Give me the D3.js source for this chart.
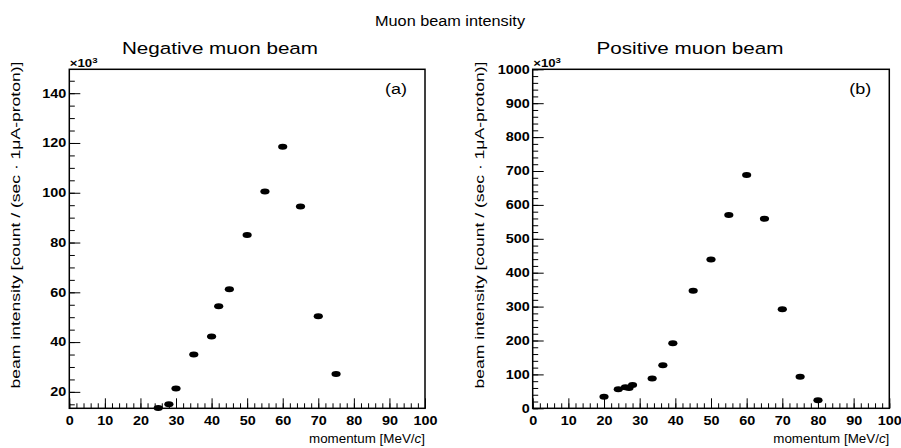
<!DOCTYPE html>
<html lang="en">
<head>
<meta charset="UTF-8">
<title>Muon beam intensity</title>
<script src="https://d3js.org/d3.v7.min.js"></script>
<style>
  body { margin: 0; background: #fff; }
  svg { font-family: "Liberation Sans", Arial, Helvetica, sans-serif; }
  .tick text { font-weight: bold; font-size: 12px; fill: #000; }
  .axis line { stroke: #000; stroke-width: 1; }
  .frame { fill: none; stroke: #000; stroke-width: 1.5; }
  .dot { fill: #000; }
</style>
</head>
<body>
<svg width="901" height="448"></svg>
<script>
// data (intensity in units of 10^3)
const negMomentum  = [25, 28, 30, 35, 40, 42, 45, 50, 55, 60, 65, 70, 75];
const negIntensity = [13.5, 15.0, 21.4, 35.0, 42.2, 54.4, 61.2, 83.0, 100.5, 118.5, 94.5, 50.4, 27.2];
const posMomentum  = [20, 24, 26, 27, 28, 33.5, 36.5, 39.3, 45, 50, 55, 60, 65, 70, 75, 80];
const posIntensity = [34, 56, 62, 60, 69, 88, 127, 192, 347, 439, 570, 688, 559, 292, 93, 24];

const xTicks = [0, 10, 20, 30, 40, 50, 60, 70, 80, 90, 100];
const negYTicks = [20, 40, 60, 80, 100, 120, 140];
const posYTicks = [0, 100, 200, 300, 400, 500, 600, 700, 800, 900, 1000];

const mainTitle = "Muon beam intensity";
const yTitle = "beam intensity [count / (sec \u00b7 1\u03bcA-proton)]";

const SX = 1.2; // text is drawn a little stretched sideways like the original

const svg = d3.select("svg");

svg.append("text")
    .attr("transform", "translate(450,26) scale(1.05,1)")
    .attr("text-anchor", "middle")
    .style("font-size", "15.5px")
    .text(mainTitle);

function drawPanel(opt) {
    const g = svg.append("g");
    const x = d3.scaleLinear().domain([0, 100]).range([opt.left, opt.right]);
    const y = d3.scaleLinear().domain(opt.yDomain).range([opt.bottom, opt.top]);

    // minor ticks
    g.append("g").attr("class", "axis")
        .attr("transform", "translate(0," + opt.bottom + ")")
        .call(d3.axisBottom(x).tickValues(d3.range(0, 100.1, 2)).tickSize(-5).tickFormat(""))
        .call(a => a.select(".domain").remove());
    g.append("g").attr("class", "axis")
        .attr("transform", "translate(" + opt.left + ",0)")
        .call(d3.axisLeft(y).tickValues(opt.yMinor).tickSize(-5.5).tickFormat(""))
        .call(a => a.select(".domain").remove());

    // major ticks with labels
    g.append("g").attr("class", "axis")
        .attr("transform", "translate(0," + opt.bottom + ")")
        .call(d3.axisBottom(x).tickValues(xTicks).tickSize(-10).tickFormat(d3.format("d")))
        .call(a => a.select(".domain").remove())
        .call(a => a.selectAll("text")
            .attr("y", 0).attr("dy", "0.71em")
            .attr("transform", "translate(0,8) scale(" + SX + ",1)"));
    g.append("g").attr("class", "axis")
        .attr("transform", "translate(" + opt.left + ",0)")
        .call(d3.axisLeft(y).tickValues(opt.yTicks).tickSize(-11).tickFormat(d3.format("d")))
        .call(a => a.select(".domain").remove())
        .call(a => a.selectAll("text")
            .attr("x", 0)
            .attr("transform", "translate(-3,0) scale(" + SX + ",1)"));

    // frame
    g.append("rect").attr("class", "frame")
        .attr("x", opt.left).attr("y", opt.top)
        .attr("width", opt.right - opt.left).attr("height", opt.bottom - opt.top);

    // points
    g.selectAll(".dot")
        .data(opt.xs.map((d, i) => [d, opt.ys[i]]))
      .join("ellipse")
        .attr("class", "dot")
        .attr("cx", d => x(d[0]))
        .attr("cy", d => y(d[1]))
        .attr("rx", 4.6)
        .attr("ry", 3);

    // panel title
    g.append("text")
        .attr("transform", "translate(" + opt.titleX + ",54) scale(" + SX + ",1)")
        .attr("text-anchor", "middle")
        .style("font-size", "17.2px")
        .text(opt.title);

    // (a)/(b)
    g.append("text")
        .attr("transform", "translate(" + (opt.right - 18) + ",94) scale(" + SX + ",1)")
        .attr("text-anchor", "end")
        .style("font-size", "15px")
        .text(opt.tag);

    // x10^3
    const m = g.append("text")
        .attr("transform", "translate(" + (opt.left + 0.5) + ",67) scale(" + SX + ",1)")
        .style("font-size", "11px")
        .style("font-weight", "bold");
    m.append("tspan").text("\u00d710");
    m.append("tspan").attr("dy", -4.5).style("font-size", "8px").text("3");

    // x axis title
    const xt = g.append("text")
        .attr("transform", "translate(" + opt.right + ",443) scale(1.03,1)")
        .attr("text-anchor", "end")
        .style("font-size", "13px");
    xt.append("tspan").text("momentum [MeV/");
    xt.append("tspan").style("font-style", "italic").text("c");
    xt.append("tspan").text("]");

    // y axis title
    g.append("text")
        .attr("transform", "translate(" + opt.yTitleX + ",225) rotate(-90) scale(1.3,1)")
        .attr("text-anchor", "middle")
        .style("font-size", "13.5px")
        .text(yTitle);
}

drawPanel({
    left: 69.3, right: 425, top: 69.3, bottom: 408.3,
    yDomain: [13.4, 149.6],
    yTicks: negYTicks,
    yMinor: d3.range(15, 149, 5),
    xs: negMomentum, ys: negIntensity,
    title: "Negative muon beam", tag: "(a)", titleX: 220, yTitleX: 20
});

drawPanel({
    left: 532.7, right: 889.3, top: 69.3, bottom: 408.3,
    yDomain: [0, 1000],
    yTicks: posYTicks,
    yMinor: d3.range(0, 1001, 20),
    xs: posMomentum, ys: posIntensity,
    title: "Positive muon beam", tag: "(b)", titleX: 690, yTitleX: 484
});
</script>
</body>
</html>
